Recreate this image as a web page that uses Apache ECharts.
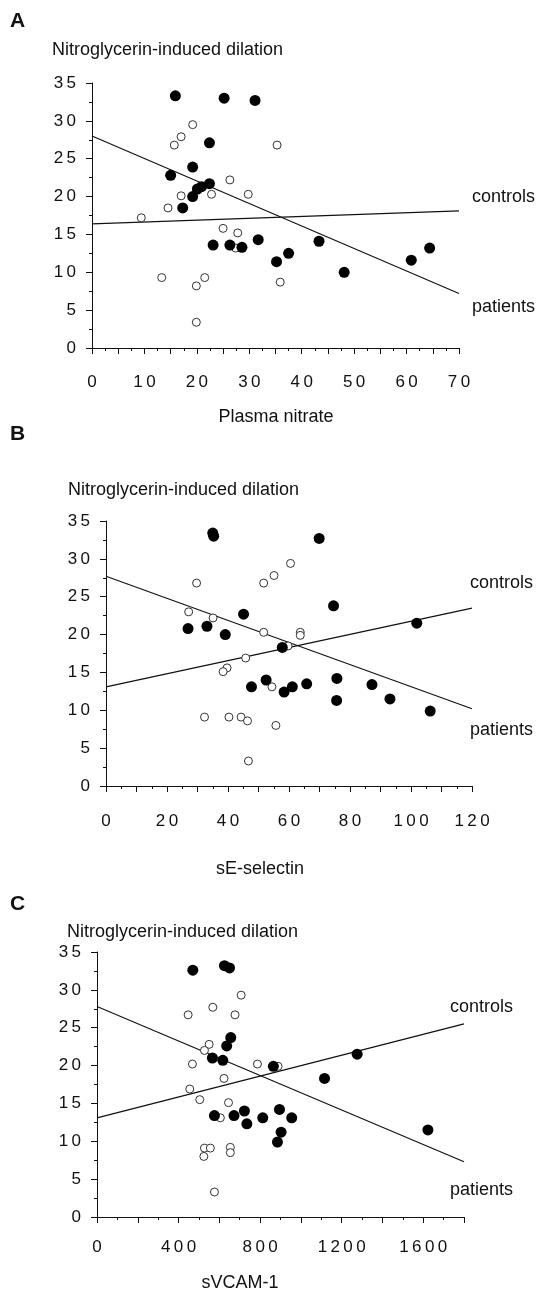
<!DOCTYPE html>
<html>
<head>
<meta charset="utf-8">
<script src="https://cdn.jsdelivr.net/npm/echarts@6/dist/echarts.min.js"></script>
<style>
  html, body { margin: 0; background: #fff; }
  #chart { width: 540px; height: 1292px; }
</style>
</head>
<body>
<div id="chart"></div>
<script>
// A - plasma nitrate vs nitroglycerin-induced dilation
const nitratePatients = [
  [15.9, 33.3], [25.2, 33.0], [31.1, 32.7], [22.4, 27.1], [19.2, 23.9], [15.0, 22.8],
  [22.4, 21.7], [20.9, 21.3], [20.1, 21.0], [19.2, 20.0], [17.3, 18.5], [23.1, 13.6],
  [26.3, 13.6], [28.6, 13.3], [31.7, 14.3], [35.2, 11.4], [37.5, 12.5], [43.3, 14.1],
  [48.1, 10.0], [60.9, 11.6], [64.4, 13.2]
]
const nitrateControls = [
  [19.2, 29.5], [17.0, 27.9], [15.7, 26.8], [35.3, 26.8], [26.3, 22.2], [17.0, 20.1],
  [22.8, 20.3], [29.8, 20.3], [14.5, 18.5], [9.4, 17.2], [25.0, 15.8], [27.8, 15.2],
  [27.4, 13.2], [13.3, 9.3], [21.5, 9.3], [19.9, 8.2], [35.9, 8.7], [19.9, 3.4]
]
const nitratePatientsFit = [[0, 28.0], [70, 7.2]]
const nitrateControlsFit = [[0, 16.4], [70, 18.1]]

// B - sE-selectin
const selectinPatients = [
  [35.0, 33.4], [35.3, 33.0], [69.9, 32.7], [74.6, 23.8], [45.1, 22.7], [26.9, 20.8],
  [33.1, 21.1], [39.1, 20.0], [101.9, 21.5], [57.8, 18.3], [47.7, 13.1], [52.5, 14.0],
  [58.4, 12.4], [61.1, 13.1], [65.8, 13.5], [75.7, 14.2], [75.6, 11.3], [87.2, 13.4],
  [93.1, 11.5], [106.3, 9.9]
]
const selectinControls = [
  [60.5, 29.4], [55.1, 27.8], [51.7, 26.8], [29.7, 26.8], [27.1, 23.0], [35.1, 22.2],
  [51.7, 20.3], [63.7, 20.3], [63.7, 19.9], [59.7, 18.5], [45.8, 16.9], [39.7, 15.6],
  [38.4, 15.1], [54.4, 13.1], [32.3, 9.1], [40.3, 9.1], [44.3, 9.1], [46.4, 8.6],
  [55.7, 8.0], [46.7, 3.3]
]
const selectinPatientsFit = [[0, 27.7], [120, 10.2]]
const selectinControlsFit = [[0, 13.1], [120, 23.5]]

// C - sVCAM-1
const vcamPatients = [
  [470, 32.6], [625, 33.2], [650, 32.9], [656, 23.7], [636, 22.6], [566, 21.0],
  [617, 20.7], [865, 19.9], [1276, 21.5], [1116, 18.3], [576, 13.4], [672, 13.4],
  [723, 14.0], [735, 12.3], [813, 13.1], [895, 14.2], [955, 13.1], [903, 11.2],
  [885, 9.9], [1623, 11.5]
]
const vcamControls = [
  [707, 29.3], [568, 27.7], [447, 26.7], [677, 26.7], [550, 22.8], [527, 22.0],
  [468, 20.2], [787, 20.2], [888, 19.9], [623, 18.3], [455, 16.9], [504, 15.5],
  [645, 15.1], [605, 13.1], [527, 9.1], [556, 9.1], [524, 8.0], [654, 9.2],
  [654, 8.5], [576, 3.3]
]
const vcamPatientsFit = [[0, 27.8], [1800, 7.3]]
const vcamControlsFit = [[0, 13.1], [1800, 25.5]]

const FONT = '"Liberation Sans", Arial, sans-serif'
const INK = '#111'

const spaced = v => String(v).split('').join('\u2009')

function xAxisFor(i, max, interval, step, margin) {
  return {
    gridIndex: i, type: 'value', min: 0, max: max, interval: interval,
    axisLine: { onZero: false, lineStyle: { color: INK, width: 1 } },
    axisTick: { length: 6, lineStyle: { color: INK } },
    minorTick: { show: true, splitNumber: 2, length: 3, lineStyle: { color: INK } },
    splitLine: { show: false },
    axisLabel: {
      margin: margin, fontSize: 17, color: INK, fontFamily: FONT,
      formatter: v => (v % step === 0 ? spaced(v) : '')
    }
  }
}

function yAxisFor(i) {
  return {
    gridIndex: i, type: 'value', min: 0, max: 35, interval: 5,
    axisLine: { onZero: false, lineStyle: { color: INK, width: 1 } },
    axisTick: { length: 6, lineStyle: { color: INK } },
    minorTick: { show: true, splitNumber: 2, length: 3, lineStyle: { color: INK } },
    splitLine: { show: false },
    axisLabel: { margin: 16, fontSize: 17, color: INK, fontFamily: FONT, formatter: spaced }
  }
}

function fitLine(i, data) {
  return {
    type: 'line', xAxisIndex: i, yAxisIndex: i, data: data,
    symbol: 'none', silent: true, z: 1,
    lineStyle: { color: INK, width: 1.2 }
  }
}

function openDots(i, data) {
  return {
    type: 'scatter', xAxisIndex: i, yAxisIndex: i, data: data,
    symbolSize: 8, z: 2,
    itemStyle: { color: '#fff', borderColor: '#333', borderWidth: 1, opacity: 1 }
  }
}

function filledDots(i, data) {
  return {
    type: 'scatter', xAxisIndex: i, yAxisIndex: i, data: data,
    symbolSize: 11, z: 3,
    itemStyle: { color: '#000', opacity: 1 }
  }
}

function txt(text, x, y, extra) {
  return {
    type: 'text',
    style: Object.assign({
      text: text, x: x, y: y, font: '18px ' + FONT, fill: INK,
      align: 'left', verticalAlign: 'middle'
    }, extra || {})
  }
}

const chart = echarts.init(document.getElementById('chart'))

chart.setOption({
  backgroundColor: '#fff',
  animation: false,
  grid: [
    { left: 92, top: 83, width: 367, height: 265 },
    { left: 106, top: 521, width: 366, height: 265 },
    { left: 97, top: 952, width: 367, height: 265 }
  ],
  xAxis: [
    xAxisFor(0, 70, 5, 10, 26),
    xAxisFor(1, 120, 10, 20, 27),
    xAxisFor(2, 1800, 200, 400, 22)
  ],
  yAxis: [yAxisFor(0), yAxisFor(1), yAxisFor(2)],
  series: [
    fitLine(0, nitratePatientsFit), fitLine(0, nitrateControlsFit),
    openDots(0, nitrateControls), filledDots(0, nitratePatients),
    fitLine(1, selectinPatientsFit), fitLine(1, selectinControlsFit),
    openDots(1, selectinControls), filledDots(1, selectinPatients),
    fitLine(2, vcamPatientsFit), fitLine(2, vcamControlsFit),
    openDots(2, vcamControls), filledDots(2, vcamPatients)
  ],
  graphic: [
    txt('A', 10, 21, { font: 'bold 21px ' + FONT }),
    txt('Nitroglycerin-induced dilation', 52, 50),
    txt('controls', 472, 197),
    txt('patients', 472, 307),
    txt('Plasma nitrate', 276, 417, { align: 'center' }),

    txt('B', 10, 434, { font: 'bold 21px ' + FONT }),
    txt('Nitroglycerin-induced dilation', 68, 490),
    txt('controls', 470, 583),
    txt('patients', 470, 730),
    txt('sE-selectin', 260, 869, { align: 'center' }),

    txt('C', 10, 904, { font: 'bold 21px ' + FONT }),
    txt('Nitroglycerin-induced dilation', 67, 932),
    txt('controls', 450, 1007),
    txt('patients', 450, 1190),
    txt('sVCAM-1', 240, 1283, { align: 'center' })
  ]
})
</script>
</body>
</html>
